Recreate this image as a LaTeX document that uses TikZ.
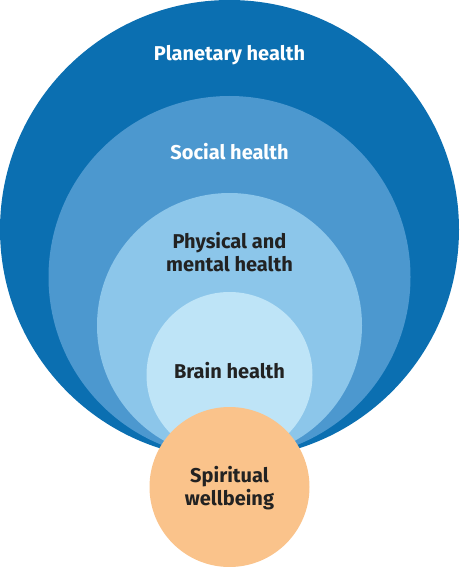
\documentclass[tikz,border=0pt]{standalone}
\usepackage{fontspec}
\setmainfont{Fira Sans}
\usetikzlibrary{positioning}
\definecolor{planet}{HTML}{0B6FB1}
\definecolor{social}{HTML}{4C98CF}
\definecolor{physical}{HTML}{8CC6EA}
\definecolor{brain}{HTML}{BEE4F7}
\definecolor{spirit}{HTML}{FAC38B}
\definecolor{ink}{HTML}{222222}
\begin{document}
\begin{tikzpicture}[x=1pt,y=-1pt,
      ring/.style={circle,inner sep=0pt,minimum size=#1},
      caption/.style={font=\bfseries\fontsize{20}{23}\selectfont,align=center,text=ink}]
      \useasboundingbox (0,0) rectangle (459,567);
      \node[ring=459pt, fill=planet]   (planet) at (229.5,229.5) {};
      \node[ring=362pt, fill=social]   (social) at (229.5,277) {};
      \node[ring=265pt, fill=physical] (phys)   at (229.5,325.5) {};
      \node[ring=166pt, fill=brain]    (brain)  at (229.5,375) {};
      \node[ring=160pt, fill=spirit]   (spirit) at (229.5,487) {};
      \node[caption, text=white] (planet text) at (229.5,55) {Planetary health};
      \node[caption, text=white] (social text) at (229.5,152) {Social health};
      \node[caption] (phys text)   at (229.5,252) {Physical and\\mental health};
      \node[caption] (brain text)  at (229.5,371) {Brain health};
      \node[caption] (spirit text) at (229.5,488) {Spiritual\\wellbeing};
    \end{tikzpicture}
\end{document}
